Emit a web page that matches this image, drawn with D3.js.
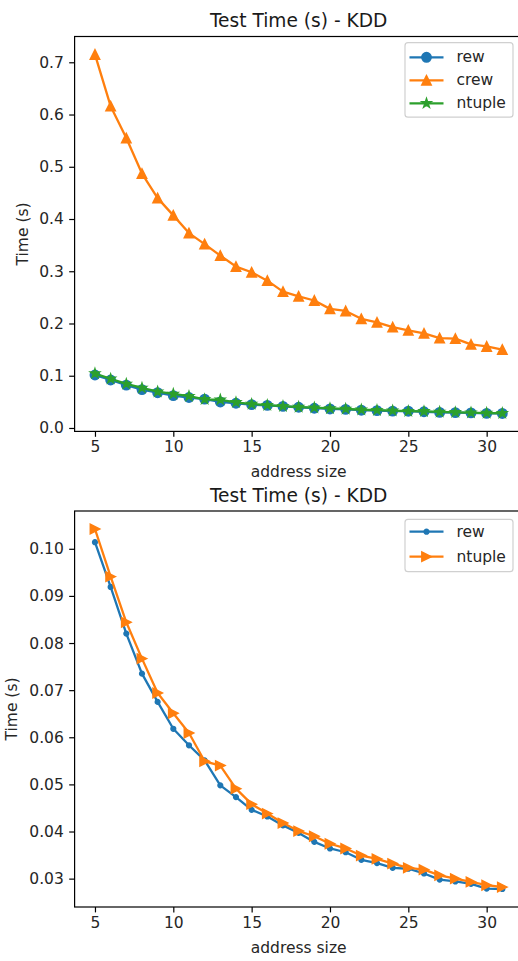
<!DOCTYPE html>
<html>
<head>
<meta charset="utf-8">
<script src="https://cdn.jsdelivr.net/npm/d3@7"></script>
<style>
  html, body { margin: 0; padding: 0; background: #fff; }
  svg { display: block; }
</style>
</head>
<body>
<script>
// Address sizes tested (x axis)
const addressSizes = [5, 6, 7, 8, 9, 10, 11, 12, 13, 14, 15, 16, 17, 18, 19, 20, 21, 22, 23, 24, 25, 26, 27, 28, 29, 30, 31];

// Test time in seconds for each method
const rewTime = [0.1014, 0.0919, 0.0820, 0.0735, 0.0675, 0.0618, 0.0583, 0.0551, 0.0498, 0.0473,
                 0.0446, 0.0432, 0.0413, 0.0397, 0.0378, 0.0364, 0.0356, 0.0340, 0.0333, 0.0323,
                 0.0321, 0.0311, 0.0298, 0.0294, 0.0289, 0.0279, 0.0278];
const crewTime = [0.715, 0.616, 0.555, 0.487, 0.440, 0.407, 0.373, 0.352, 0.330, 0.309,
                  0.298, 0.282, 0.261, 0.252, 0.244, 0.228, 0.224, 0.209, 0.202, 0.193,
                  0.187, 0.181, 0.172, 0.171, 0.160, 0.156, 0.150];
const ntupleTime = [0.1042, 0.0941, 0.0844, 0.0767, 0.0694, 0.0651, 0.0609, 0.0549, 0.0540, 0.0491,
                    0.0458, 0.0438, 0.0418, 0.0401, 0.0390, 0.0374, 0.0364, 0.0349, 0.0342, 0.0332,
                    0.0323, 0.0319, 0.0307, 0.0300, 0.0293, 0.0286, 0.0282];

// Tick labels
const xTicks = [5, 10, 15, 20, 25, 30];
const yTicksTop = [0.0, 0.1, 0.2, 0.3, 0.4, 0.5, 0.6, 0.7];
const yTicksBottom = [0.03, 0.04, 0.05, 0.06, 0.07, 0.08, 0.09, 0.10];

const titleText = "Test Time (s) - KDD";
const xLabelText = "address size";
const yLabelText = "Time (s)";

const C = { blue: "#1f77b4", orange: "#ff7f0e", green: "#2ca02c" };

const W = 518, H = 961;
const FONT = "DejaVu Sans, Liberation Sans, sans-serif";
const TICK_FS = 15.5, TITLE_FS = 18.6;
const LW = 2.3, MS = 9.3, MEW = 1.55;

const svg = d3.select("body").append("svg")
  .attr("width", W).attr("height", H)
  .style("font-family", FONT);

// Marker shapes (size = full marker width in px)
const markerPath = {
  circle: s => { const r = s / 2; return `M${r},0A${r},${r} 0 1,1 ${-r},0A${r},${r} 0 1,1 ${r},0Z`; },
  point: s => { const r = s / 4; return `M${r},0A${r},${r} 0 1,1 ${-r},0A${r},${r} 0 1,1 ${r},0Z`; },
  triUp: s => { const h = s / 2; return `M0,${-h}L${-h},${h}L${h},${h}Z`; },
  triRight: s => { const h = s / 2; return `M${h},0L${-h},${-h}L${-h},${h}Z`; },
  star: s => {
    const R = s / 2, r = R * 0.381966;
    const pts = [];
    for (let i = 0; i < 10; i++) {
      const a = -Math.PI / 2 + i * Math.PI / 5;
      const rad = i % 2 === 0 ? R : r;
      pts.push([rad * Math.cos(a), rad * Math.sin(a)]);
    }
    return "M" + pts.map(p => p[0].toFixed(2) + "," + p[1].toFixed(2)).join("L") + "Z";
  }
};

function padded(vals) {
  const [lo, hi] = d3.extent(vals);
  const p = (hi - lo) * 0.05;
  return [lo - p, hi + p];
}

const PLOT_LEFT = 74.6, PLOT_RIGHT = 522.7;
const x = d3.scaleLinear().domain(padded(addressSizes)).range([PLOT_LEFT, PLOT_RIGHT]);

function drawPanel(cfg) {
  const g = svg.append("g");
  const allVals = cfg.series.flatMap(s => s.values);
  const y = d3.scaleLinear().domain(padded(allVals)).range([cfg.bottom, cfg.top]);

  // Series lines and markers
  cfg.series.forEach(s => {
    const pts = addressSizes.map((a, i) => [a, s.values[i]]);
    g.append("path")
      .attr("d", d3.line().x(d => x(d[0])).y(d => y(d[1]))(pts))
      .attr("fill", "none").attr("stroke", s.color)
      .attr("stroke-width", LW).attr("stroke-linejoin", "round").attr("stroke-linecap", "square");
    g.append("g").selectAll("path").data(pts).join("path")
      .attr("d", markerPath[s.marker](MS))
      .attr("transform", d => `translate(${x(d[0])},${y(d[1])})`)
      .attr("fill", s.color).attr("stroke", s.color).attr("stroke-width", MEW)
      .attr("stroke-linejoin", "miter");
  });

  // Axes
  const xAxis = g.append("g").attr("transform", `translate(0,${cfg.bottom})`)
    .call(d3.axisBottom(x).tickValues(xTicks).tickSize(5.4).tickPadding(4.5).tickFormat(d3.format("d")));
  const yAxis = g.append("g").attr("transform", `translate(${PLOT_LEFT},0)`)
    .call(d3.axisLeft(y).tickValues(cfg.yTicks).tickSize(5.4).tickPadding(5.4).tickFormat(d3.format(cfg.yFmt)));
  [xAxis, yAxis].forEach(a => {
    a.select(".domain").remove();
    a.selectAll(".tick line").attr("stroke", "#000").attr("stroke-width", 1.2);
    a.selectAll(".tick text").attr("fill", "#262626")
      .style("font-size", TICK_FS + "px").style("font-family", FONT);
  });

  // Frame
  g.append("rect")
    .attr("x", PLOT_LEFT).attr("y", cfg.top)
    .attr("width", PLOT_RIGHT - PLOT_LEFT).attr("height", cfg.bottom - cfg.top)
    .attr("fill", "none").attr("stroke", "#000").attr("stroke-width", 1.2);

  // Title and axis labels
  g.append("text").attr("x", (PLOT_LEFT + PLOT_RIGHT) / 2).attr("y", cfg.titleY)
    .attr("text-anchor", "middle").attr("fill", "#1a1a1a")
    .style("font-size", TITLE_FS + "px").text(titleText);
  g.append("text").attr("x", (PLOT_LEFT + PLOT_RIGHT) / 2).attr("y", cfg.bottom + 45.5)
    .attr("text-anchor", "middle").attr("fill", "#262626")
    .style("font-size", TICK_FS + "px").text(xLabelText);
  g.append("text")
    .attr("transform", `translate(${cfg.yLabelX},${(cfg.top + cfg.bottom) / 2}) rotate(-90)`)
    .attr("text-anchor", "middle").attr("fill", "#262626")
    .style("font-size", TICK_FS + "px").text(yLabelText);

  // Legend
  const L = cfg.legend;
  const lg = g.append("g");
  lg.append("rect")
    .attr("x", L.x).attr("y", L.y).attr("width", L.w).attr("height", L.h)
    .attr("rx", 3).attr("fill", "#fff").attr("fill-opacity", 0.8)
    .attr("stroke", "#d0d0d0").attr("stroke-width", 1.2);
  cfg.series.forEach((s, i) => {
    const cy = L.y + L.firstRow + i * L.rowGap;
    lg.append("line").attr("x1", L.x + 4.5).attr("x2", L.x + 38.5)
      .attr("y1", cy).attr("y2", cy)
      .attr("stroke", s.color).attr("stroke-width", LW);
    lg.append("path").attr("d", markerPath[s.marker](MS))
      .attr("transform", `translate(${L.x + 21.5},${cy})`)
      .attr("fill", s.color).attr("stroke", s.color).attr("stroke-width", MEW);
    lg.append("text").attr("x", L.x + 51.5).attr("y", cy + 5)
      .attr("fill", "#262626").style("font-size", TICK_FS + "px").text(s.name);
  });
}

drawPanel({
  top: 36.5, bottom: 431.4,
  yTicks: yTicksTop, yFmt: ".1f",
  titleY: 27, yLabelX: 27.5,
  series: [
    { name: "rew", values: rewTime, color: C.blue, marker: "circle" },
    { name: "crew", values: crewTime, color: C.orange, marker: "triUp" },
    { name: "ntuple", values: ntupleTime, color: C.green, marker: "star" }
  ],
  legend: { x: 405, y: 42.7, w: 108, h: 74.5, firstRow: 14.6, rowGap: 23 }
});

drawPanel({
  top: 511, bottom: 907,
  yTicks: yTicksBottom, yFmt: ".2f",
  titleY: 501.5, yLabelX: 16.5,
  series: [
    { name: "rew", values: rewTime, color: C.blue, marker: "point" },
    { name: "ntuple", values: ntupleTime, color: C.orange, marker: "triRight" }
  ],
  legend: { x: 405, y: 519.3, w: 108, h: 52.4, firstRow: 12.4, rowGap: 25 }
});
</script>
</body>
</html>
